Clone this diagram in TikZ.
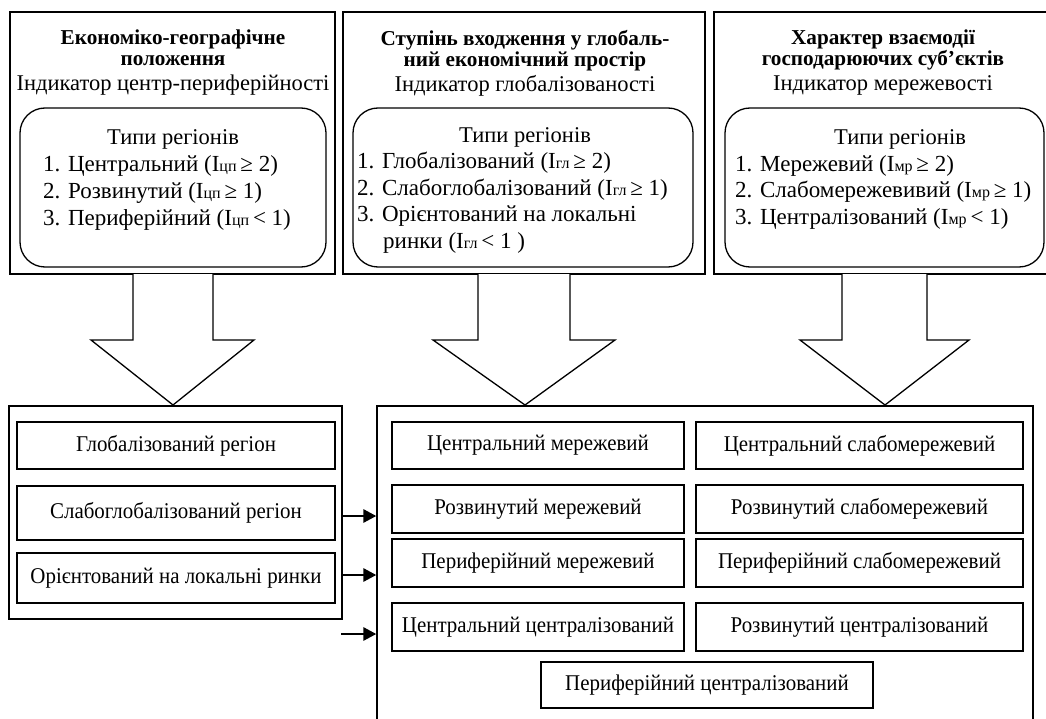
\documentclass[tikz,border=0pt]{standalone}
\usepackage{fontspec}
\setmainfont{Liberation Serif}
\newfontfamily\narrowfont{Liberation Serif}[FakeStretch=0.93]
\usetikzlibrary{arrows.meta,positioning}

\tikzset{
	frame/.style={draw, line width=1.3pt, inner sep=0pt},
	typebox/.style={draw, line width=1.3pt, rounded corners=25pt},
	regbox/.style={draw, line width=1.3pt, inner sep=0pt, font=\narrowfont\fontsize{22.5}{25}\selectfont},
	blockarrow/.style={draw, line width=1.3pt, fill=white},
	link/.style={line width=2.8pt, -{Triangle[length=13pt,width=13pt]}},
	head/.style={anchor=base, font=\bfseries\fontsize{21.2}{23}\selectfont, inner sep=0pt},
	plain/.style={anchor=base, font=\fontsize{22.5}{26}\selectfont, inner sep=0pt},
	item/.style={anchor=base west, font=\fontsize{23}{26}\selectfont, inner sep=0pt}
}
\newcommand{\ind}[1]{{\fontsize{16}{16}\selectfont #1}}

\begin{document}
\begin{tikzpicture}[x=1pt, y=-1pt]
	\useasboundingbox (0,0) rectangle (1046,719);

	% upper frames
	\node [frame, minimum width=325pt, minimum height=262pt] (geo) at (172.5,143) {};
	\node [frame, minimum width=362pt, minimum height=262pt] (glob) at (524,143) {};
	\node [frame, minimum width=336pt, minimum height=262pt] (net) at (882,143) {};

	\draw [typebox] (20,108) rectangle (326,267);
	\draw [typebox] (353,108) rectangle (693,267);
	\draw [typebox] (725,108) rectangle (1044,267);

	% block arrows
	\draw [blockarrow] (133,274) -- (133,340) -- (91,340) -- (173,405) -- (254,340) -- (213,340) -- (213,274);
	\draw [blockarrow] (478,274) -- (478,340) -- (433,340) -- (525,405) -- (615,340) -- (570,340) -- (570,274);
	\draw [blockarrow] (842,274) -- (842,340) -- (800,340) -- (885,405) -- (969,340) -- (927,340) -- (927,274);

	% texts of the first frame
	\node [head] (geoA) at (173,45) {Економіко-географічне};
	\node [head] (geoB) at (173,66) {положення};
	\node [plain] (geoC) at (173,91) {Індикатор центр-периферійності};
	\node [plain] (geoT) at (173,145) {Типи регіонів};
	\node [item] (geo1) at (43,172) {1. Центральний (I\ind{цп}\,≥ 2)};
	\node [item] (geo2) at (43,199) {2. Розвинутий (I\ind{цп}\,≥ 1)};
	\node [item] (geo3) at (43,226) {3. Периферійний (I\ind{цп}\,< 1)};

	% texts of the second frame
	\node [head] (globA) at (525,46) {Ступінь входження у глобаль-};
	\node [head] (globB) at (525,67) {ний економічний простір};
	\node [plain] (globC) at (525,92) {Індикатор глобалізованості};
	\node [plain] (globT) at (525,143) {Типи регіонів};
	\node [item] (glob1) at (357,169) {1. Глобалізований (I\ind{гл}\,≥ 2)};
	\node [item] (glob2) at (357,196) {2. Слабоглобалізований (I\ind{гл}\,≥ 1)};
	\node [item] (glob3) at (357,222) {3. Орієнтований на локальні};
	\node [item] (glob4) at (383,248) {ринки (I\ind{гл}\,< 1 )};

	% texts of the third frame
	\node [head] (netA) at (883,45) {Характер взаємодії};
	\node [head] (netB) at (883,66) {господарюючих суб’єктів};
	\node [plain] (netC) at (883,91) {Індикатор мережевості};
	\node [plain] (netT) at (900,145) {Типи регіонів};
	\node [item] (net1) at (735,172) {1. Мережевий (I\ind{мр}\,≥ 2)};
	\node [item] (net2) at (735,198) {2. Слабомережевивий (I\ind{мр}\,≥ 1)};
	\node [item] (net3) at (735,225) {3. Централізований (I\ind{мр}\,< 1)};

	% lower left frame
	\node [frame, minimum width=333pt, minimum height=213pt] (gset) at (175.5,512.5) {};
	\node [regbox, minimum width=318pt, minimum height=47pt] (gl) at (176,445.5) {Глобалізований регіон};
	\node [regbox, minimum width=318pt, minimum height=54pt] (sg) at (176,513) {Слабоглобалізований регіон};
	\node [regbox, minimum width=318pt, minimum height=50pt] (lr) at (176,578) {Орієнтований на локальні ринки};

	% lower right frame
	\node [frame, minimum width=656pt, minimum height=324pt] (rset) at (705,568) {};
	\node [regbox, minimum width=292pt, minimum height=47pt] (cm) at (538,445.5) {Центральний мережевий};
	\node [regbox, minimum width=327pt, minimum height=47pt] (cs) at (859.5,445.5) {Центральний слабомережевий};
	\node [regbox, minimum width=292pt, minimum height=48pt] (rm) at (538,509) {Розвинутий мережевий};
	\node [regbox, minimum width=327pt, minimum height=48pt] (rs) at (859.5,509) {Розвинутий слабомережевий};
	\node [regbox, minimum width=292pt, minimum height=48pt] (pm) at (538,563) {Периферійний мережевий};
	\node [regbox, minimum width=327pt, minimum height=48pt] (ps) at (859.5,563) {Периферійний слабомережевий};
	\node [regbox, minimum width=292pt, minimum height=48pt] (cc) at (538,627) {Центральний централізований};
	\node [regbox, minimum width=327pt, minimum height=48pt] (rc) at (859.5,627) {Розвинутий централізований};
	\node [regbox, minimum width=332pt, minimum height=46pt] (pc) at (707,685) {Периферійний централізований};

	% connectors
	\coordinate (in1) at (342,516);
	\coordinate (in2) at (342,575);
	\coordinate (in3) at (341,634);
	\draw [link] (in1) -- (rset.west |- in1);
	\draw [link] (in2) -- (rset.west |- in2);
	\draw [link] (in3) -- (rset.west |- in3);
\end{tikzpicture}
\end{document}
